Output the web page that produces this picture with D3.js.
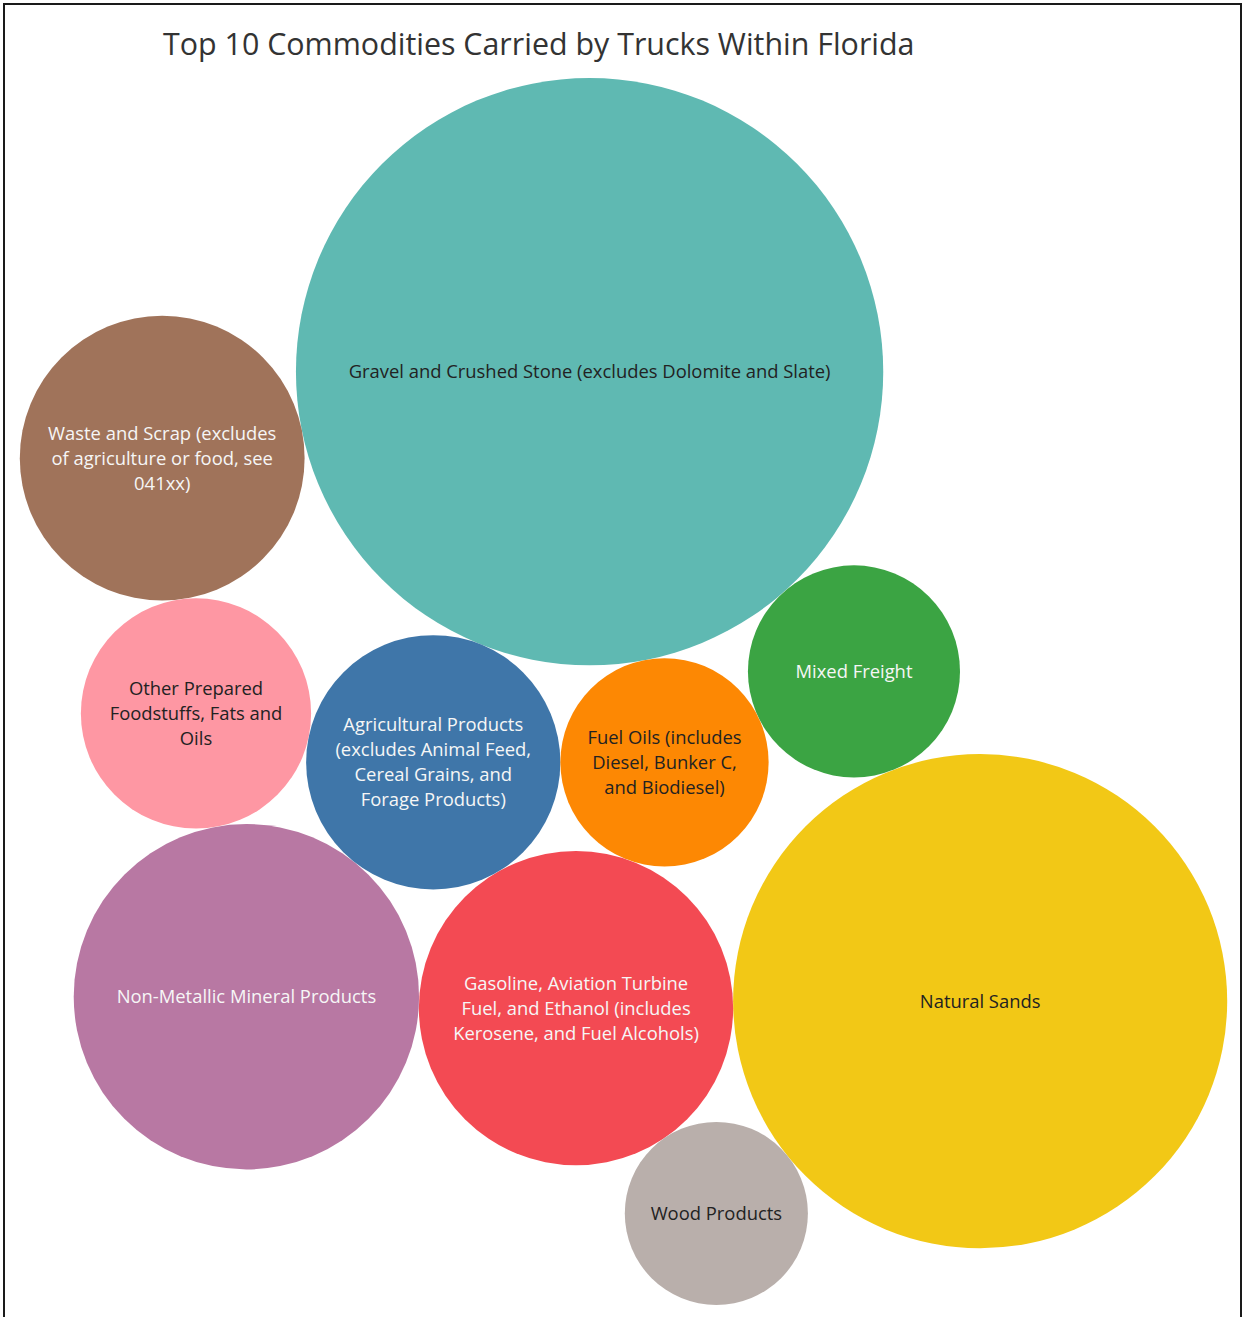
<!DOCTYPE html>
<html>
<head>
<meta charset="utf-8">
<script src="https://cdn.jsdelivr.net/npm/d3@7"></script>
<style>
  body { margin: 0; background: #fff; }
  svg { display: block; font-family: "Open Sans", sans-serif; }
</style>
</head>
<body>
<svg id="chart" width="1244" height="1317"></svg>
<script>
// commodities (thousand tons)
const categories = [
  "Gravel and Crushed Stone (excludes Dolomite and Slate)",
  "Natural Sands",
  "Non-Metallic Mineral Products",
  "Gasoline, Aviation Turbine Fuel, and Ethanol (includes Kerosene, and Fuel Alcohols)",
  "Waste and Scrap (excludes of agriculture or food, see 041xx)",
  "Agricultural Products (excludes Animal Feed, Cereal Grains, and Forage Products)",
  "Other Prepared Foodstuffs, Fats and Oils",
  "Mixed Freight",
  "Fuel Oils (includes Diesel, Bunker C, and Biodiesel)",
  "Wood Products"
];
const tons = [85900, 60800, 29700, 24600, 20200, 16100, 13200, 11200, 10800, 8350];

// how the labels wrap inside the bubbles
const labelLines = [
  ["Gravel and Crushed Stone (excludes Dolomite and Slate)"],
  ["Natural Sands"],
  ["Non-Metallic Mineral Products"],
  ["Gasoline, Aviation Turbine", "Fuel, and Ethanol (includes", "Kerosene, and Fuel Alcohols)"],
  ["Waste and Scrap (excludes", "of agriculture or food, see", "041xx)"],
  ["Agricultural Products", "(excludes Animal Feed,", "Cereal Grains, and", "Forage Products)"],
  ["Other Prepared", "Foodstuffs, Fats and", "Oils"],
  ["Mixed Freight"],
  ["Fuel Oils (includes", "Diesel, Bunker C,", "and Biodiesel)"],
  ["Wood Products"]
];

const colors = ["#5fb9b2", "#f2c816", "#b878a3", "#f34a53", "#a0735a",
                "#3f76a9", "#fe97a3", "#3ba443", "#fd8803", "#b9afab"];
const textColors = ["#222", "#222", "#f6f6f6", "#f6f6f6", "#f6f6f6",
                    "#f6f6f6", "#222", "#f6f6f6", "#222", "#222"];

const svg = d3.select("#chart");

// frame
svg.append("rect")
  .attr("x", 4).attr("y", 4)
  .attr("width", 1237).attr("height", 1330)
  .attr("fill", "none")
  .attr("stroke", "#1a1a1a")
  .attr("stroke-width", 2);

// title
svg.append("text")
  .attr("x", 163)
  .attr("y", 55)
  .style("font-size", "30.4px")
  .style("fill", "#333")
  .text("Top 10 Commodities Carried by Trucks Within Florida");

// bubble area scale
const r = d3.scaleSqrt()
  .domain([0, d3.max(tons)])
  .range([0, 293.5]);

const nodes = categories.map((c, i) => ({ i, name: c, value: tons[i], r: r(tons[i]) }));

// place c tangent to a and b, on one side of the line a->b
function place(a, b, c, side) {
  const dx = b.x - a.x, dy = b.y - a.y;
  const d = Math.hypot(dx, dy);
  const ra = a.r + c.r, rb = b.r + c.r;
  const along = (d * d + ra * ra - rb * rb) / (2 * d);
  const h = Math.sqrt(Math.max(0, ra * ra - along * along));
  const ux = dx / d, uy = dy / d;
  c.x = a.x + along * ux - side * h * uy;
  c.y = a.y + along * uy + side * h * ux;
}

// packing order: each bubble sits against two already placed
const [gravel, sands, nonmet, gas, waste, agri, food, mixed, fuel, wood] = nodes;
agri.x = 0; agri.y = 0;
fuel.x = agri.r + fuel.r; fuel.y = 0;
place(agri, fuel, gravel, -1);
place(gravel, fuel, mixed, -1);
place(agri, fuel, gas, 1);
place(mixed, gas, sands, -1);
place(gas, sands, wood, 1);
place(agri, gas, nonmet, 1);
place(agri, nonmet, food, 1);
place(gravel, food, waste, 1);

// fit the packed group into the plot box
const box = { x0: 19, y0: 78, x1: 1228, y1: 1305 };
const bx0 = d3.min(nodes, d => d.x - d.r), bx1 = d3.max(nodes, d => d.x + d.r);
const by0 = d3.min(nodes, d => d.y - d.r), by1 = d3.max(nodes, d => d.y + d.r);
const k = Math.min((box.x1 - box.x0) / (bx1 - bx0), (box.y1 - box.y0) / (by1 - by0));
const ox = (box.x0 + box.x1) / 2 - k * (bx0 + bx1) / 2;
const oy = (box.y0 + box.y1) / 2 - k * (by0 + by1) / 2;

const g = svg.append("g")
  .attr("transform", `translate(${ox},${oy}) scale(${k})`);

const bubble = g.selectAll("g.bubble")
  .data(nodes)
  .join("g")
  .attr("class", "bubble")
  .attr("transform", d => `translate(${d.x},${d.y})`);

bubble.append("circle")
  .attr("r", d => d.r)
  .attr("fill", d => colors[d.i]);

const lineH = 25;
bubble.append("text")
  .attr("text-anchor", "middle")
  .style("font-size", `${18.4 / k}px`)
  .style("fill", d => textColors[d.i])
  .selectAll("tspan")
  .data(d => labelLines[d.i].map((t, j, arr) => ({ t, j, n: arr.length })))
  .join("tspan")
  .attr("x", 0)
  .attr("y", d => (d.j - (d.n - 1) / 2) * lineH / k)
  .attr("dy", "0.35em")
  .text(d => d.t);
</script>
</body>
</html>
